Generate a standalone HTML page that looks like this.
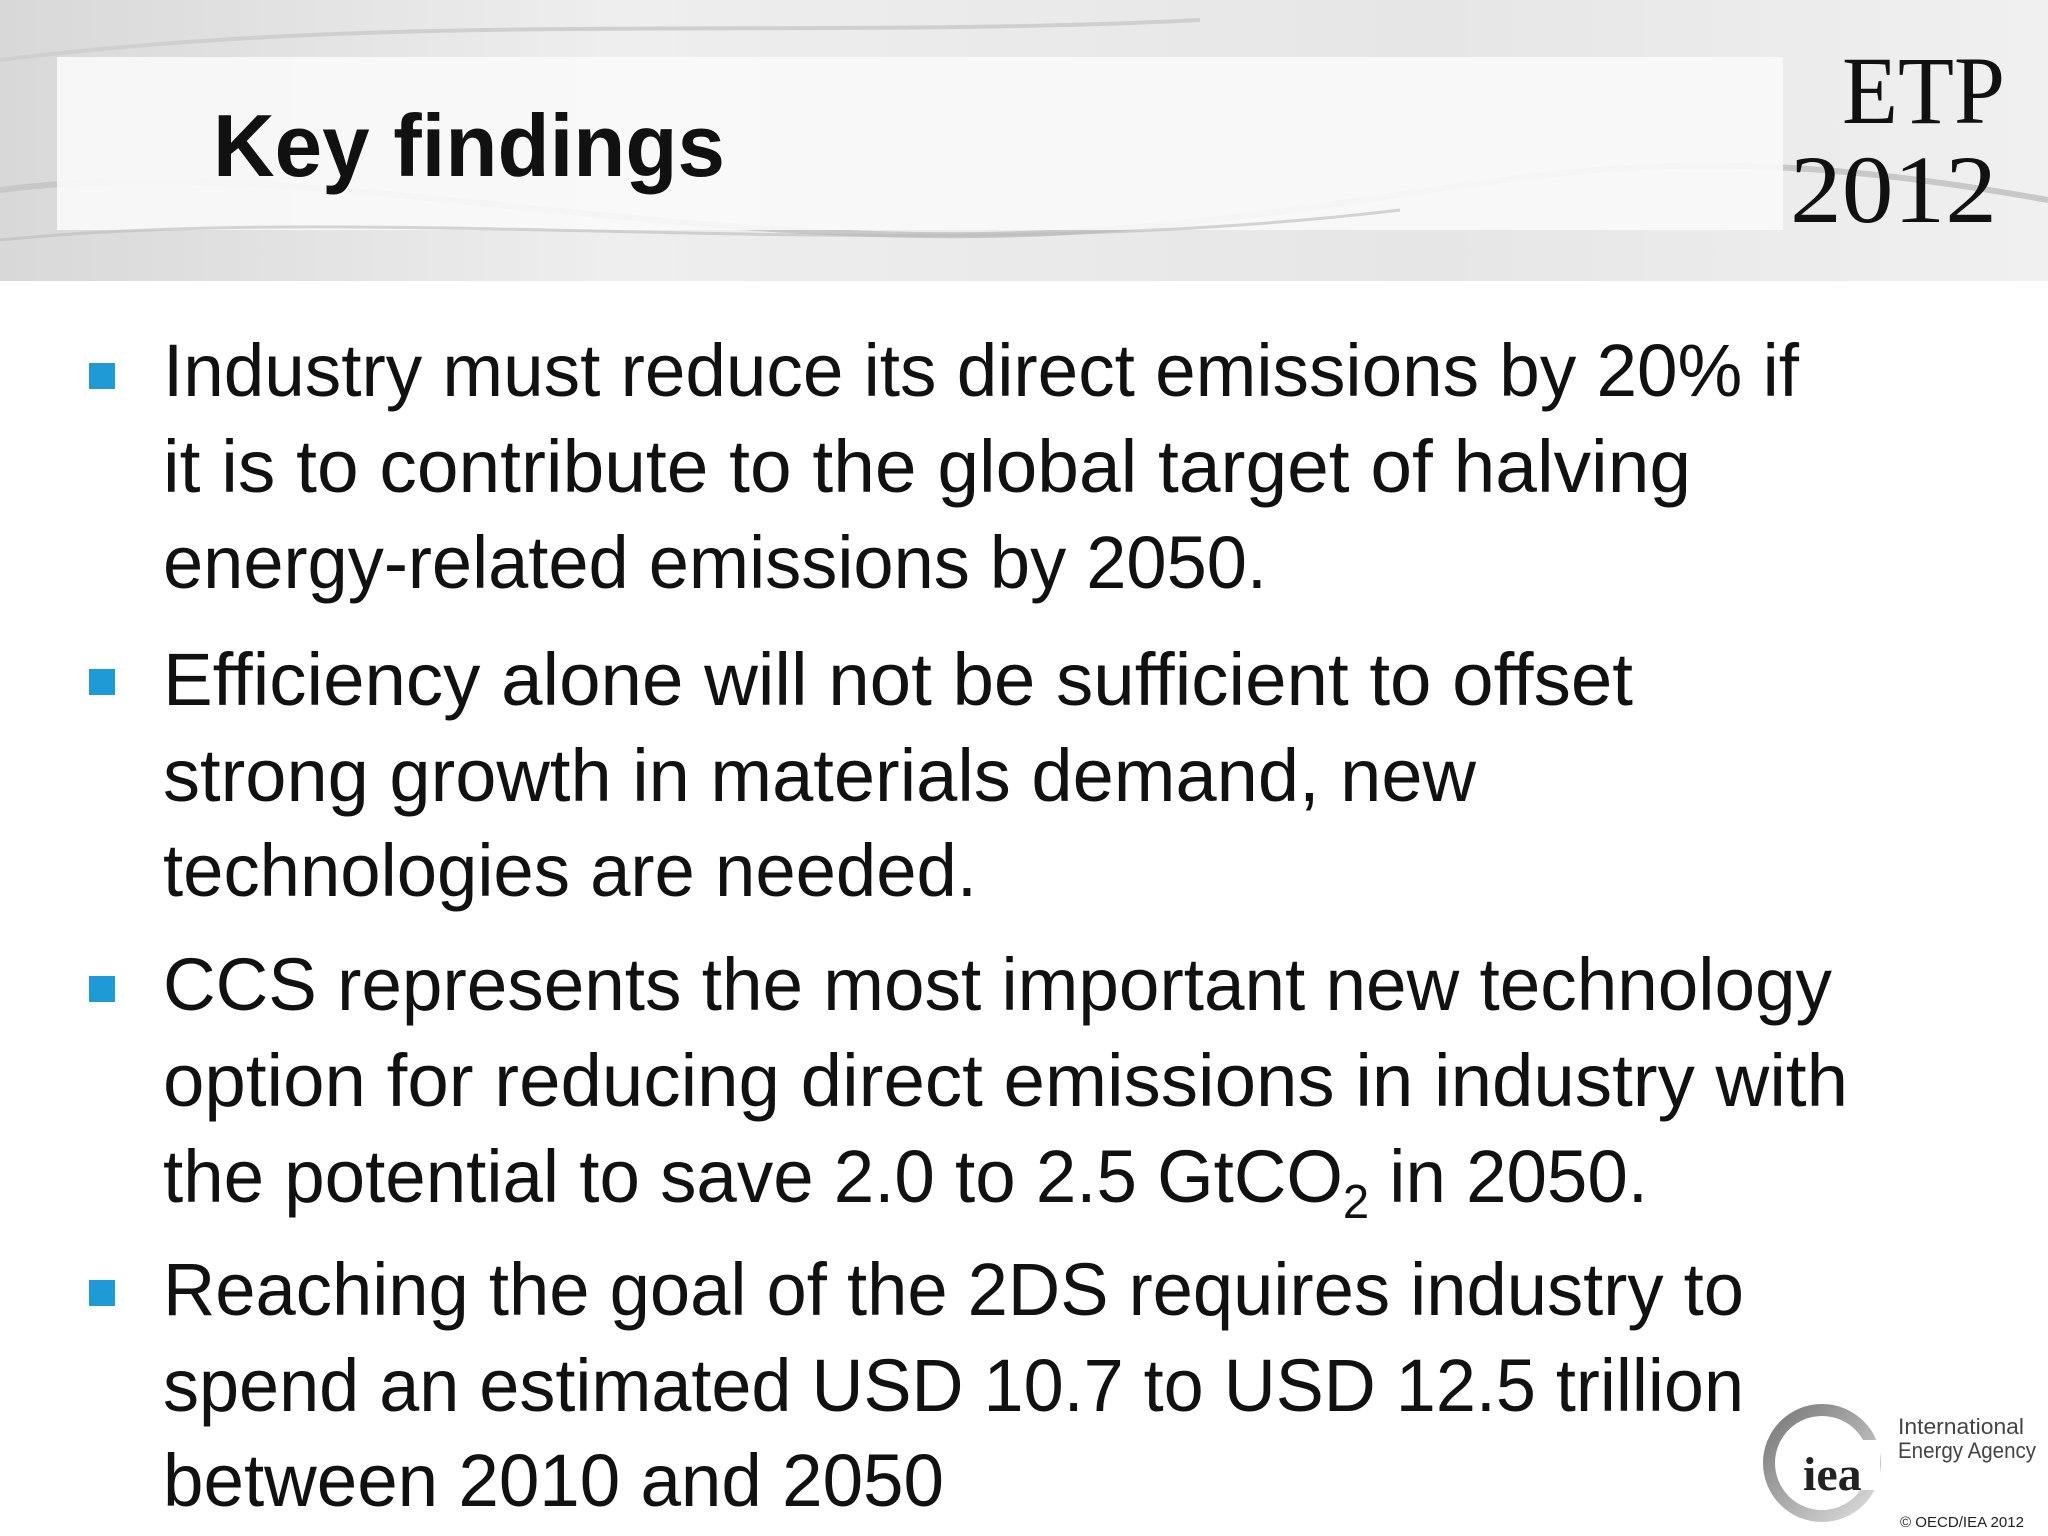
<!DOCTYPE html>
<html><head><meta charset="utf-8"><style>
html,body{margin:0;padding:0;width:2048px;height:1536px;overflow:hidden;background:#fff}
</style></head><body>
<svg width="2048" height="1536" viewBox="0 0 2048 1536" xmlns="http://www.w3.org/2000/svg">
<defs>
<linearGradient id="hg" x1="0" y1="0" x2="1" y2="0">
<stop offset="0" stop-color="#d8d8d8"/><stop offset="0.3" stop-color="#eeeeee"/><stop offset="0.7" stop-color="#e6e6e6"/><stop offset="1" stop-color="#f0f0f0"/>
</linearGradient>
<linearGradient id="ring" x1="0" y1="0" x2="1" y2="1">
<stop offset="0" stop-color="#777"/><stop offset="1" stop-color="#ddd"/>
</linearGradient>
</defs>
<g>
<rect x="0" y="0" width="2048" height="281" fill="url(#hg)"/>
<path d="M0 190 C300 150 700 260 1100 230 S1600 120 2048 200" stroke="#c8c8c8" stroke-width="6" fill="none"/>
<path d="M0 60 C400 10 800 40 1200 20" stroke="#cfcfcf" stroke-width="4" fill="none"/>
<rect x="57" y="57" width="1726" height="173" fill="#fafafa" opacity="0.9"/>
<path d="M0 240 C400 200 900 270 1400 210" stroke="#bbb" stroke-width="3" fill="none" opacity="0.6"/>
</g>
<text x="213" y="176" font-family="Liberation Sans, sans-serif" font-weight="bold" font-size="88" fill="#111" textLength="512" lengthAdjust="spacingAndGlyphs">Key findings</text>
<text x="1842" y="123" font-family="Liberation Serif, serif" font-size="96" fill="#111" textLength="163" lengthAdjust="spacingAndGlyphs">ETP</text>
<text x="1790" y="222" font-family="Liberation Serif, serif" font-size="96" fill="#111" textLength="207" lengthAdjust="spacingAndGlyphs">2012</text>

<g fill="#1e9bd7">
<rect x="89" y="363" width="26" height="26"/>
<rect x="89" y="669" width="26" height="26"/>
<rect x="89" y="976" width="26" height="26"/>
<rect x="89" y="1280" width="26" height="26"/>
</g>
<g font-family="Liberation Sans, sans-serif" font-size="74" fill="#111">
<text x="163" y="396" textLength="1636" lengthAdjust="spacingAndGlyphs">Industry must reduce its direct emissions by 20% if</text>
<text x="163" y="492" textLength="1528" lengthAdjust="spacingAndGlyphs">it is to contribute to the global target of halving</text>
<text x="163" y="588" textLength="1104" lengthAdjust="spacingAndGlyphs">energy-related emissions by 2050.</text>
<text x="163" y="705" textLength="1470" lengthAdjust="spacingAndGlyphs">Efficiency alone will not be sufficient to offset</text>
<text x="163" y="801" textLength="1313" lengthAdjust="spacingAndGlyphs">strong growth in materials demand, new</text>
<text x="163" y="896" textLength="814" lengthAdjust="spacingAndGlyphs">technologies are needed.</text>
<text x="163" y="1010" textLength="1669" lengthAdjust="spacingAndGlyphs">CCS represents the most important new technology</text>
<text x="163" y="1106" textLength="1685" lengthAdjust="spacingAndGlyphs">option for reducing direct emissions in industry with</text>
<text x="163" y="1202" textLength="1485" lengthAdjust="spacingAndGlyphs">the potential to save 2.0 to 2.5 GtCO<tspan font-size="48" dy="16">2</tspan><tspan dy="-16"> in 2050.</tspan></text>
<text x="163" y="1315" textLength="1581" lengthAdjust="spacingAndGlyphs">Reaching the goal of the 2DS requires industry to</text>
<text x="163" y="1411" textLength="1581" lengthAdjust="spacingAndGlyphs">spend an estimated USD 10.7 to USD 12.5 trillion</text>
<text x="163" y="1506" textLength="781" lengthAdjust="spacingAndGlyphs">between 2010 and 2050</text>
</g>

<g>
<circle cx="1822" cy="1463" r="53" fill="none" stroke="url(#ring)" stroke-width="12"/>
<rect x="1800" y="1440" width="80" height="50" fill="#fff"/>
<text x="1803" y="1490" font-family="Liberation Serif, serif" font-weight="bold" font-size="48" fill="#222">iea</text>
<text x="1898" y="1434" font-family="Liberation Sans, sans-serif" font-size="22" fill="#444" textLength="126" lengthAdjust="spacingAndGlyphs">International</text>
<text x="1898" y="1458" font-family="Liberation Sans, sans-serif" font-size="22" fill="#444" textLength="138" lengthAdjust="spacingAndGlyphs">Energy Agency</text>
<text x="1900" y="1527" font-family="Liberation Sans, sans-serif" font-size="15" fill="#222" textLength="124" lengthAdjust="spacingAndGlyphs">© OECD/IEA 2012</text>
</g>
</svg>
</body></html>
